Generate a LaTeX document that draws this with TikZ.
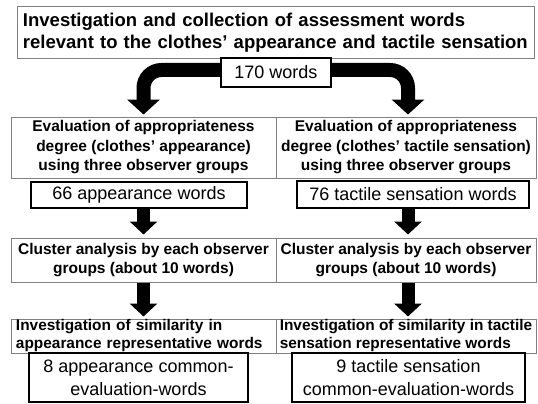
\documentclass[tikz,border=0pt]{standalone}
\usepackage{fontspec}
\setmainfont{Liberation Sans}
\usetikzlibrary{arrows.meta}
\begin{document}
\begin{tikzpicture}[x=1pt,y=-1pt,
  graybox/.style={draw=black!50, line width=1pt, inner sep=0pt, font=\bfseries\fontsize{15.5}{19.5}\selectfont, align=center},
  leftbox/.style={graybox, align=left, font=\bfseries\fontsize{15.4}{18}\selectfont},
  countbox/.style={draw=black, line width=1.8pt, fill=white, inner sep=0pt, font=\fontsize{18}{23}\selectfont, align=center},
  blockarrow/.style={line width=13pt, -{Triangle[width=27pt,length=13pt]}},
  toparrow/.style={line width=14pt, -{Triangle[width=32pt,length=15pt]}, rounded corners=18pt},
]
\path[use as bounding box] (0,0) rectangle (538,404);

% top box
\node[graybox, minimum width=517pt, minimum height=52pt, text width=505pt, align=left,
      font=\bfseries\fontsize{18.5}{22}\selectfont] (top) at (275.5,33)
  {Investigation and collection of assessment words\\relevant to the clothes’ appearance and tactile sensation};

% row 2
\node[graybox, minimum width=265pt, minimum height=61pt] (evl) at (143.5,147.5)
  {Evaluation of appropriateness\\degree (clothes’ appearance)\\using three observer groups};
\node[graybox, minimum width=260pt, minimum height=61pt] (evr) at (406,147.5)
  {Evaluation of appropriateness\\degree (clothes’ tactile sensation)\\using three observer groups};

% row 3
\node[graybox, minimum width=265pt, minimum height=44pt] (cll) at (143.5,260)
  {Cluster analysis by each observer\\groups (about 10 words)};
\node[graybox, minimum width=260pt, minimum height=44pt] (clr) at (406,260)
  {Cluster analysis by each observer\\groups (about 10 words)};

% row 4
\node[leftbox, minimum width=265pt, minimum height=34pt, text width=255pt] (sil) at (143.5,336)
  {Investigation of similarity in\\appearance representative words};
\node[leftbox, minimum width=260pt, minimum height=34pt] (sir) at (406,336)
  {Investigation of similarity in tactile\\sensation representative words};

% arrows
\coordinate (fork) at (276,70);
\coordinate (tr) at ([xshift=2pt]evr.north);
\draw[toparrow] (fork) -- (fork -| evl.north) -- ([yshift=2pt]evl.north);
\draw[toparrow] (fork) -- (fork -| tr) -- ([yshift=2pt]tr);

\node[countbox, minimum width=216pt, minimum height=26pt] (n66) at (139,195) {66 appearance words};
\node[countbox, minimum width=232pt, minimum height=27pt] (n76) at (413,194.5) {76 tactile sensation words};

\coordinate (ar) at ([xshift=2pt]clr.north);
\draw[blockarrow] (n66.south -| cll.north) -- ([yshift=3pt]cll.north);
\draw[blockarrow] (n76.south -| ar) -- ([yshift=3pt]ar);

\coordinate (br) at ([xshift=2pt]sir.north);
\draw[blockarrow] (cll.south) -- ([yshift=2pt]sil.north);
\draw[blockarrow] (clr.south -| br) -- ([yshift=2pt]br);

% 170 box
\node[countbox, minimum width=110pt, minimum height=29pt] (n170) at (276,72.5) {170 words};

% bottom boxes
\node[countbox, minimum width=219pt, minimum height=49pt] (n8) at (138.5,377.5)
  {8 appearance common-\\evaluation-words};
\node[countbox, minimum width=233pt, minimum height=49pt] (n9) at (408.5,377.5)
  {9 tactile sensation\\common-evaluation-words};
\end{tikzpicture}
\end{document}
